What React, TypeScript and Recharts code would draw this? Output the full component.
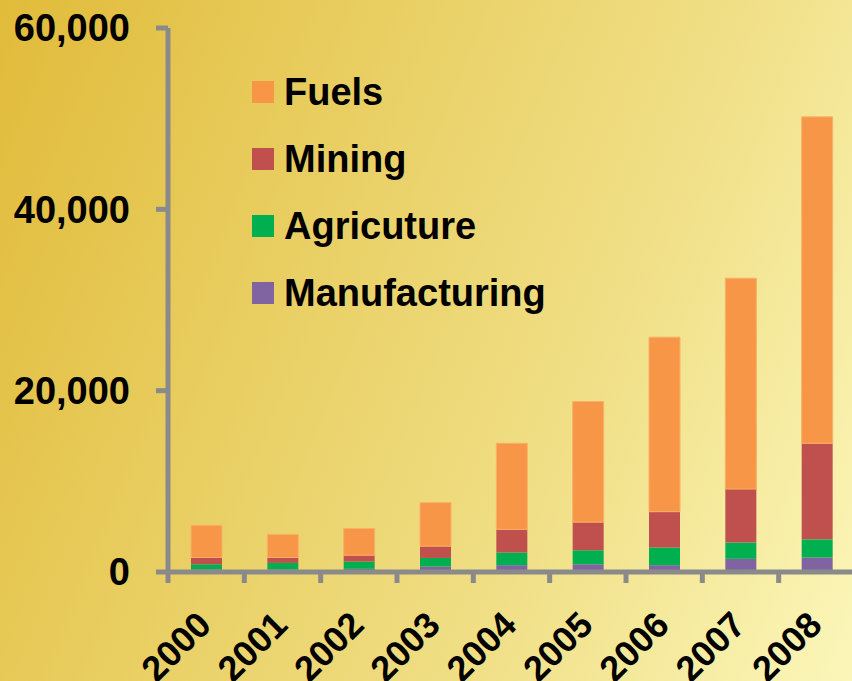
import React from "react";
import { BarChart, Bar, XAxis, YAxis } from "recharts";

const years = ["2000", "2001", "2002", "2003", "2004", "2005", "2006", "2007", "2008"];
const manufacturing = [300, 300, 350, 600, 750, 850, 750, 1450, 1600];
const agriculture = [550, 700, 800, 950, 1400, 1550, 1950, 1800, 2000];
const mining = [750, 600, 700, 1300, 2550, 3100, 3950, 5900, 10600];
const fuels = [3550, 2550, 2950, 4800, 9500, 13300, 19250, 23250, 36000];
const yTicks = [0, 20000, 40000, 60000];

const series = [
  { key: "Manufacturing", values: manufacturing, color: "#8064a2" },
  { key: "Agricuture", values: agriculture, color: "#00b050" },
  { key: "Mining", values: mining, color: "#c0504d" },
  { key: "Fuels", values: fuels, color: "#f79646" },
];

const data = years.map((y, i) => {
  const row: Record<string, any> = { year: y };
  series.forEach((s) => (row[s.key] = s.values[i]));
  return row;
});

const W = 860;
const H = 681;
const MARGIN = { top: 28, right: 5, bottom: 0, left: 0 };
const Y_W = 168;
const X_H = 109;
const HALF_BAND = (W - MARGIN.left - MARGIN.right - Y_W) / years.length / 2;
const FONT = "'Liberation Sans', Arial, sans-serif";
const AXIS = "#8a8a8a";
const FS = 38;

const XTick = (props: any) => {
  const { x, y, payload, index } = props;
  return (
    <g>
      <line x1={x - HALF_BAND} x2={x - HALF_BAND} y1={y} y2={y + 11} stroke={AXIS} strokeWidth={5} />
      {index === years.length - 1 && (
        <line x1={x + HALF_BAND} x2={x + HALF_BAND} y1={y} y2={y + 11} stroke={AXIS} strokeWidth={5} />
      )}
      <g transform={`translate(${x + 7},${y + 55})`}>
        <text
          transform="rotate(-45)"
          textAnchor="end"
          fill="#000"
          fontFamily={FONT}
          fontWeight={700}
          fontSize={36}
        >
          {payload.value}
        </text>
      </g>
    </g>
  );
};

const LegendBox = () => (
  <div
    style={{
      position: "absolute",
      left: 252,
      top: 58,
      fontFamily: FONT,
      fontWeight: 700,
      fontSize: FS,
      color: "#000",
    }}
  >
    {[...series].reverse().map((s) => (
      <div key={s.key} style={{ display: "flex", alignItems: "center", height: 67 }}>
        <div style={{ width: 22, height: 22, background: s.color, marginRight: 10 }} />
        <span style={{ lineHeight: "40px" }}>{s.key}</span>
      </div>
    ))}
  </div>
);

export default function App() {
  return (
    <div
      style={{
        position: "fixed",
        left: 0,
        top: 0,
        width: 852,
        height: H,
        overflow: "hidden",
        background:
          "linear-gradient(112deg, #e1bb3a 0%, #e8cd5f 32%, #f0df86 66%, #fbf6b9 100%)",
      }}
    >
      <BarChart width={W} height={H} data={data} margin={MARGIN} barSize={31}>
        <XAxis
          dataKey="year"
          height={X_H}
          axisLine={{ stroke: AXIS, strokeWidth: 5 }}
          tickLine={false}
          tickSize={0}
          tickMargin={0}
          tick={<XTick />}
          interval={0}
        />
        <YAxis
          width={Y_W}
          domain={[0, 60000]}
          ticks={yTicks}
          tickFormatter={(v: number) => v.toLocaleString("en-US")}
          axisLine={{ stroke: AXIS, strokeWidth: 5 }}
          tickLine={{ stroke: AXIS, strokeWidth: 5 }}
          tickSize={12}
          tickMargin={26}
          tick={{ fill: "#000", fontFamily: FONT, fontWeight: 700, fontSize: FS }}
        />
        {series.map((s) => (
          <Bar
            key={s.key}
            dataKey={s.key}
            stackId="a"
            fill={s.color}
            stroke={s.key === "Fuels" ? "#f9b06a" : "none"}
            strokeWidth={1}
            isAnimationActive={false}
          />
        ))}
      </BarChart>
      <LegendBox />
    </div>
  );
}
